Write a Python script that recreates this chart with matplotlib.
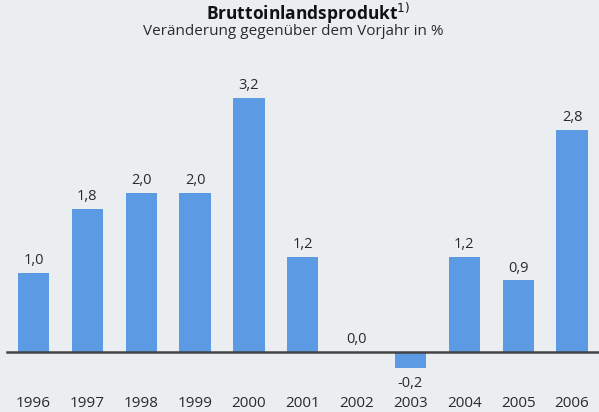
import matplotlib
matplotlib.use("Agg")
import matplotlib.pyplot as plt

years = ["1996", "1997", "1998", "1999", "2000", "2001", "2002", "2003", "2004", "2005", "2006"]
growth = [1.0, 1.8, 2.0, 2.0, 3.2, 1.2, 0.0, -0.2, 1.2, 0.9, 2.8]
value_labels = ["1,0", "1,8", "2,0", "2,0", "3,2", "1,2", "0,0", "-0,2", "1,2", "0,9", "2,8"]

title = "Bruttoinlandsprodukt$^{1)}$"
subtitle = "Veränderung gegenüber dem Vorjahr in %"

bg = "#ebeef0"
bar_color = "#5c9ae3"
text_color = "#2a2a2a"

plt.rcParams["font.family"] = ["Open Sans", "DejaVu Sans"]

fig = plt.figure(figsize=(5.99, 4.12), dpi=100, facecolor=bg)
ax = fig.add_axes([0, 0, 1, 1])
ax.set_facecolor(bg)

x = list(range(len(years)))
ax.bar(x, growth, width=0.58, color=bar_color, zorder=2)
ax.axhline(0, xmin=0.011, xmax=1, color="#444444", lw=1.8, zorder=3)

for i, (v, lab) in enumerate(zip(growth, value_labels)):
    if v < 0:
        ax.text(i, v - 0.1, lab, ha="center", va="top", fontsize=10.5, color=text_color)
    else:
        ax.text(i, v + 0.06, lab, ha="center", va="bottom", fontsize=10.5, color=text_color)
    ax.text(i, -0.65, years[i], ha="center", va="center", fontsize=11, color=text_color)

ax.set_xlim(-0.622, 10.50)
ax.set_ylim(-0.755, 4.43)
ax.axis("off")

fig.text(0.515, 0.967, title, ha="center", va="center", fontsize=12.5,
         fontweight="bold", color="#111111")
fig.text(0.49, 0.923, subtitle, ha="center", va="center", fontsize=11, color=text_color)

fig.savefig("out.png", dpi=100, facecolor=bg)
